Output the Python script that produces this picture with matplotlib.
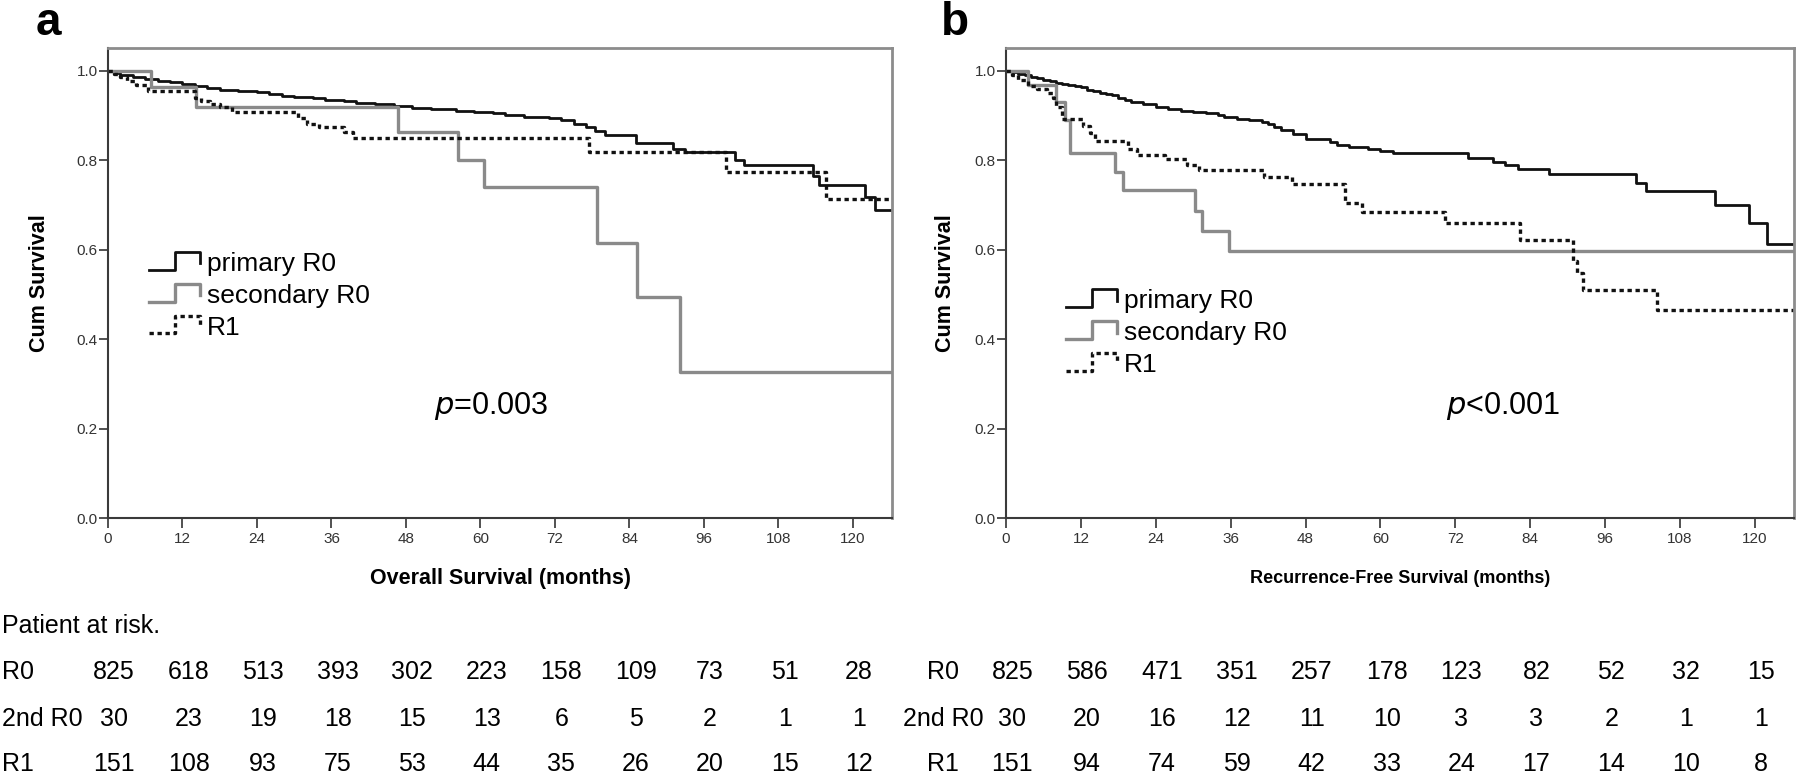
import numpy as np
import matplotlib
matplotlib.use("Agg")
import matplotlib.pyplot as plt
from matplotlib.lines import Line2D
from matplotlib.legend_handler import HandlerLine2D
from matplotlib.transforms import blended_transform_factory

plt.rcParams["font.family"] = ["Liberation Sans", "DejaVu Sans"]

# ---- panel a: overall survival (months, cum survival) ----
os_r0_t = [0, 1, 2, 4, 6, 8, 10, 12, 14, 16, 18, 21, 24, 26, 28, 30, 33, 35, 38, 40,
           43, 46, 49, 52, 56, 59, 62, 64, 67, 71, 73, 75, 77, 78.5, 80, 85, 91, 93,
           101, 102.5, 113.5, 114.5, 122, 123.5, 126.3]
os_r0_s = [1.0, .995, .99, .985, .982, .978, .974, .970, .966, .962, .958, .955, .953,
           .948, .944, .941, .938, .934, .932, .928, .925, .922, .916, .914, .911, .908,
           .905, .901, .897, .894, .889, .882, .875, .866, .856, .838, .826, .818, .80,
           .789, .765, .745, .718, .688, .688]
os_sec_t = [0, 7, 14.2, 46.7, 56.4, 60.6, 78.8, 85.2, 92.2, 126.3]
os_sec_s = [1.0, .963, .919, .862, .800, .741, .616, .494, .327, .327]
os_r1_t = [0, 1, 2, 3, 4.5, 6.5, 14, 15, 16.5, 18, 20, 30.6, 32, 34, 38, 39.5, 77.4,
           99.5, 115.7, 126.3]
os_r1_s = [1.0, .993, .985, .978, .968, .955, .940, .932, .926, .918, .907, .895, .882,
           .875, .864, .850, .818, .774, .714, .714]

# ---- panel b: recurrence-free survival ----
rfs_r0_t = [0, 1, 2, 3, 4, 5, 6, 7, 8, 9, 10, 11, 12, 13, 14, 15, 16, 17, 18, 19, 20,
            22, 24, 26, 28, 30, 32, 34, 35, 37, 39, 41, 42, 43, 44, 46, 48, 52, 53, 55,
            58, 60, 62, 74, 78, 80, 82, 87, 101, 102.5, 113.6, 119.1, 121.9, 126.3]
rfs_r0_s = [1.0, .997, .993, .99, .987, .983, .979, .976, .973, .970, .968, .966, .963,
            .958, .955, .951, .948, .945, .940, .935, .930, .925, .920, .915, .911, .908,
            .905, .900, .896, .893, .889, .885, .880, .874, .867, .858, .847, .840, .835,
            .830, .825, .820, .815, .806, .797, .790, .781, .769, .749, .731, .700, .660,
            .613, .613]
rfs_sec_t = [0, 3.6, 8.0, 9.5, 10.2, 17.4, 18.7, 30.3, 31.4, 35.8, 126.3]
rfs_sec_s = [1.0, .968, .930, .89, .815, .773, .733, .687, .641, .597, .597]
rfs_r1_t = [0, 1, 2, 3.5, 5, 6.5, 7.5, 8, 9, 12.4, 13.5, 14.2, 19.5, 21, 25.4, 29, 31,
            41.3, 45.9, 54.4, 57.1, 70.4, 82.4, 90.8, 91.5, 92.5, 104.4, 126.3]
rfs_r1_s = [1.0, .99, .98, .965, .96, .95, .94, .92, .892, .876, .86, .842, .825, .812,
            .802, .79, .777, .763, .747, .705, .685, .659, .622, .575, .548, .51, .466,
            .466]

labels = ["primary R0", "secondary R0", "R1"]
risk_months = [0, 12, 24, 36, 48, 60, 72, 84, 96, 108, 120]
risk_rows = ["R0", "2nd R0", "R1"]
os_risk = [
    [825, 618, 513, 393, 302, 223, 158, 109, 73, 51, 28],
    [30, 23, 19, 18, 15, 13, 6, 5, 2, 1, 1],
    [151, 108, 93, 75, 53, 44, 35, 26, 20, 15, 12],
]
rfs_risk = [
    [825, 586, 471, 351, 257, 178, 123, 82, 52, 32, 15],
    [30, 20, 16, 12, 11, 10, 3, 3, 2, 1, 1],
    [151, 94, 74, 59, 42, 33, 24, 17, 14, 10, 8],
]


class StepHandler(HandlerLine2D):
    """SPSS-like step glyph for the legend."""

    def create_artists(self, legend, orig_handle, xdescent, ydescent, width,
                       height, fontsize, trans):
        xs = np.array([0, 0.5, 0.5, 0.97, 0.97]) * width - xdescent
        ys = np.array([0.05, 0.05, 1.05, 1.05, 0.4]) * height - ydescent
        line = Line2D(xs, ys)
        self.update_prop(line, orig_handle, legend)
        line.set_transform(trans)
        return [line]


STYLES = [
    dict(color="#111111", lw=2.0, ls="-"),
    dict(color="#8a8a8a", lw=2.4, ls="-"),
    dict(color="#111111", lw=2.4, ls=(0, (1.3, 1.1))),
]


def draw_panel(ax, curves, xlabel, xl_weight, xl_size, ptext, pxy, leg_anchor, ylab_x):
    handles = []
    for (t, s), st, lab in zip(curves, STYLES, labels):
        (h,) = ax.step(t, s, where="post", label=lab, **st)
        handles.append(h)
    ax.set_xlim(0, 126.3)
    ax.set_ylim(0, 1.051)
    ax.set_xticks(risk_months)
    ax.set_yticks(np.arange(0, 1.01, 0.2))
    ax.set_yticklabels([f"{v:.1f}" for v in np.arange(0, 1.01, 0.2)])
    ax.tick_params(axis="y", length=6.5, width=1.2, pad=1, labelsize=11,
                   colors="#333333")
    ax.tick_params(axis="x", length=7, width=1.2, pad=3, labelsize=11,
                   colors="#333333")
    for side in ("left", "bottom"):
        ax.spines[side].set_color("#3a3a3a")
        ax.spines[side].set_linewidth(1.5)
    for side in ("top", "right"):
        ax.spines[side].set_color("#8c8c8c")
        ax.spines[side].set_linewidth(2.0)
    ax.set_ylabel("Cum Survival", fontsize=15.5, fontweight="bold")
    ax.yaxis.set_label_coords(ylab_x, 0.5)
    ax.set_xlabel(xlabel, fontsize=xl_size, fontweight=xl_weight)
    ax.xaxis.set_label_coords(0.5, -0.128)
    ax.xaxis.label.set_va("center")
    ax.legend(handles=handles, loc="upper left", bbox_to_anchor=leg_anchor,
              frameon=False, fontsize=19, handlelength=2.0, handleheight=0.65,
              handletextpad=0.2, labelspacing=0.3, borderpad=0, borderaxespad=0,
              handler_map={Line2D: StepHandler()})
    ax.text(pxy[0], pxy[1], ptext, fontsize=22, ha="center", va="center")


def draw_risk(fig, ax, table, label_x, label_ha):
    tr = blended_transform_factory(ax.transData, fig.transFigure)
    row_y = [0.1351, 0.0746, 0.0167]
    for name, vals, y in zip(risk_rows, table, row_y):
        fig.text(label_x, y, name, fontsize=18, ha=label_ha, va="center")
        for m, v in zip(risk_months, vals):
            ax.text(m + 1.0, y, str(v), transform=tr, fontsize=18, ha="center",
                    va="center", clip_on=False)


fig = plt.figure(figsize=(18, 7.77), dpi=100)
ax_a = fig.add_axes([0.060, 0.3333, 0.4356, 0.605])
ax_b = fig.add_axes([0.5589, 0.3333, 0.4378, 0.605])

draw_panel(ax_a, [(os_r0_t, os_r0_s), (os_sec_t, os_sec_s), (os_r1_t, os_r1_s)],
           "Overall Survival (months)", "bold", 15.5,
           r"$\it{p}$=0.003", (61.7, 0.25), (0.052, 0.566), -0.074)
draw_panel(ax_b, [(rfs_r0_t, rfs_r0_s), (rfs_sec_t, rfs_sec_s), (rfs_r1_t, rfs_r1_s)],
           "Recurrence-Free Survival (months)", "bold", 13,
           r"$\it{p}$<0.001", (79.6, 0.25), (0.076, 0.487), -0.063)

fig.text(0.02, 0.955, "a", fontsize=33, fontweight="bold", ha="left", va="baseline")
fig.text(0.523, 0.955, "b", fontsize=33, fontweight="bold", ha="left", va="baseline")

fig.text(0.001, 0.1943, "Patient at risk.", fontsize=18, ha="left", va="center")
draw_risk(fig, ax_a, os_risk, 0.001, "left")
draw_risk(fig, ax_b, rfs_risk, 0.524, "center")

fig.savefig("out.png", dpi=100)
